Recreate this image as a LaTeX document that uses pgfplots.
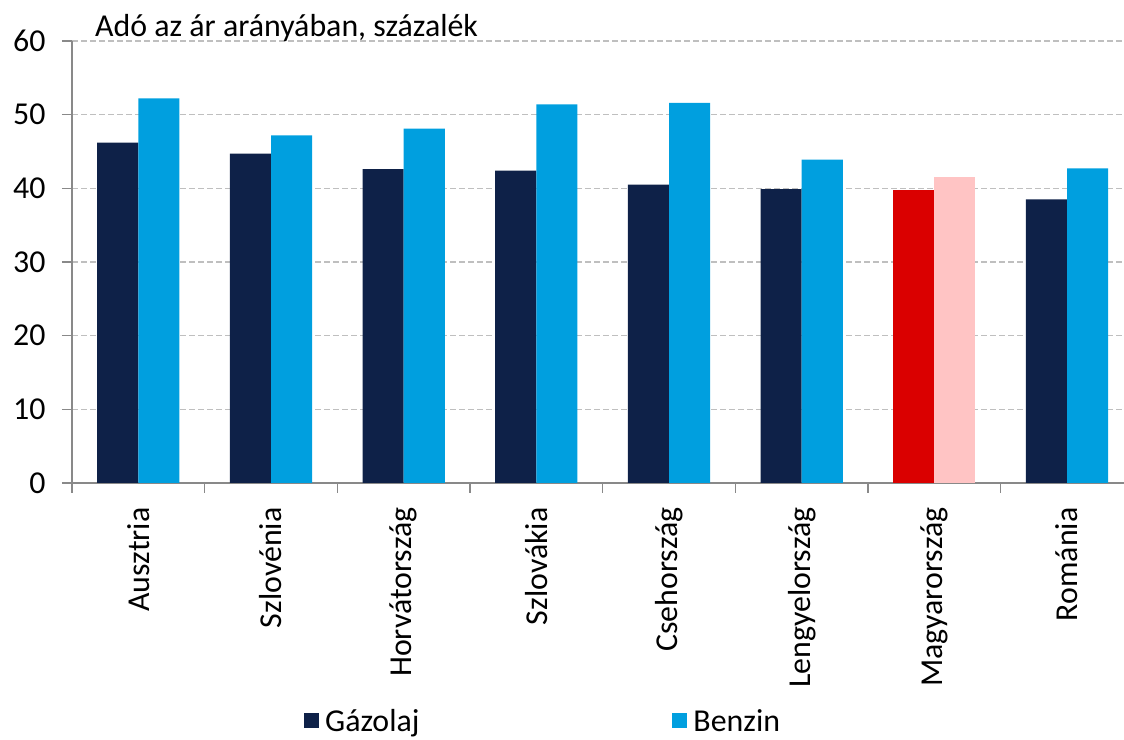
\documentclass[border=0pt]{standalone}
\usepackage{fontspec}
\setmainfont{Carlito}
\usepackage{pgfplots}
\pgfplotsset{compat=1.18}
\definecolor{navy}{HTML}{0E2148}
\definecolor{lblue}{HTML}{009FDF}
\definecolor{hured}{HTML}{DA0000}
\definecolor{hupink}{HTML}{FFC4C4}
\definecolor{axisgray}{HTML}{898989}
\definecolor{gridgray}{HTML}{BFBFBF}
\pgfplotstableread{
x gaz benz
0 46.2 52.2
1 44.7 47.2
2 42.6 48.1
3 42.4 51.4
4 40.5 51.6
5 39.9 43.9
7 38.5 42.7
}\others
\pgfplotstableread{
x gaz benz
6 39.8 41.5
}\hun
\begin{document}
\begin{tikzpicture}
\begin{axis}[
  at={(72bp,257bp)}, anchor=south west,
  width=1052bp, height=442bp, scale only axis,
  xmin=-0.5, xmax=7.43, ymin=0, ymax=60,
  axis x line*=bottom, axis y line*=left,
  axis line style={draw=axisgray, line width=1.5bp},
  ytick={0,10,...,60},
  ymajorgrids,
  grid style={draw=gridgray, line width=1.2bp, dash pattern=on 6bp off 3bp},
  xtick={-0.5,0.5,...,6.5},
  xticklabels={},
  extra x ticks={0,1,...,7},
  extra x tick labels={Ausztria,Szlovénia,Horvátország,Szlovákia,Csehország,Lengyelország,Magyarország,Románia},
  extra x tick style={major tick length=0pt, grid=none},
  tick align=outside,
  major tick length=10bp,
  tick style={draw=axisgray, line width=1.5bp},
  x tick label style={yshift=-21bp, rotate=90, anchor=east},
  y tick label style={xshift=-13bp},
  tick label style={font=\fontsize{32}{38}\selectfont},
  /pgf/number format/assume math mode=true,
  legend style={at={(0.2205,-0.538)}, anchor=west, draw=none, fill=none, inner sep=0pt,
    nodes={inner xsep=6bp, inner ysep=1bp},
    font=\fontsize{32}{38}\selectfont,
    /tikz/every even column/.append style={column sep=247bp}},
  legend columns=2,
  legend cell align=left,
  legend image code/.code={\fill[#1] (0bp,-7.5bp) rectangle (15bp,7.5bp);},
]
\addplot[ybar, bar width=0.31, bar shift=-0.155, fill=navy, draw=none] table[x=x, y=gaz] {\others};
\addlegendentry{Gázolaj}
\addplot[ybar, bar width=0.31, bar shift=0.155, fill=lblue, draw=none] table[x=x, y=benz] {\others};
\addlegendentry{Benzin}
\addplot[ybar, bar width=0.31, bar shift=-0.155, fill=hured, draw=none, forget plot] table[x=x, y=gaz] {\hun};
\addplot[ybar, bar width=0.31, bar shift=0.155, fill=hupink, draw=none, forget plot] table[x=x, y=benz] {\hun};
\end{axis}
\node[anchor=base west, inner sep=0pt, font=\fontsize{32}{38}\selectfont] at (95bp,703bp) {Adó az ár arányában, százalék};
\pgfresetboundingbox
\useasboundingbox (0,0) rectangle (1124bp,740bp);
\end{tikzpicture}
\end{document}
